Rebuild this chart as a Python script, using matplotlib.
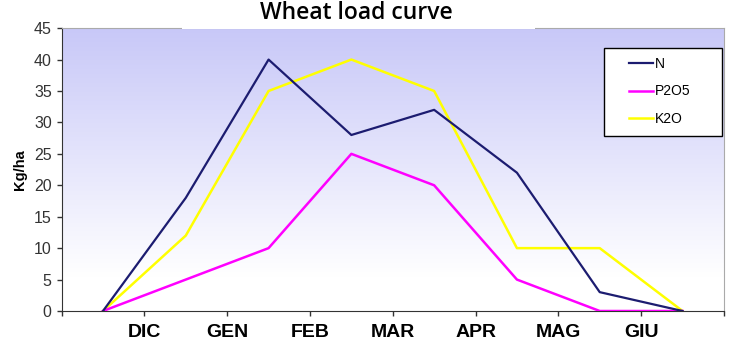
import numpy as np
import matplotlib
matplotlib.use("Agg")
import matplotlib.pyplot as plt
from matplotlib.patches import Rectangle

months = ["DIC", "GEN", "FEB", "MAR", "APR", "MAG", "GIU"]
n_vals = [0, 18, 40, 28, 32, 22, 3, 0]
p2o5_vals = [0, 5, 10, 25, 20, 5, 0, 0]
k2o_vals = [0, 12, 35, 40, 35, 10, 10, 0]

fig = plt.figure(figsize=(7.29, 3.56), dpi=100)
ax = fig.add_axes([0.0845, 0.1264, 0.9085, 0.7946])

# background gradient (lavender at top, white at bottom)
grad = np.linspace(0, 1, 256).reshape(-1, 1)
top = np.array([200, 200, 248]) / 255.0
bot = np.array([1.0, 1.0, 1.0])
t = np.clip((grad - 0.12) / 0.88, 0, 1)
img = bot + (top - bot) * t
img = img.reshape(256, 1, 3)
ax.imshow(img, extent=[0, 8, 0, 45], origin="lower", aspect="auto", zorder=0)

x = np.arange(len(n_vals)) + 0.5
ax.plot(x, k2o_vals, color="#ffff00", lw=1.8, label="K2O", zorder=3)
ax.plot(x, p2o5_vals, color="#ff00ff", lw=1.8, label="P2O5", zorder=3)
ax.plot(x, n_vals, color="#1c1c70", lw=1.6, label="N", zorder=4)

ax.set_xlim(0, 8)
ax.set_ylim(0, 45)
ax.set_yticks(range(0, 46, 5))
ax.set_xticks(range(0, 9))
ax.set_xticklabels([""] + months + [""], fontweight="bold", fontsize=14,
                   family=["Liberation Sans Narrow", "Liberation Sans"])
ax.tick_params(axis="x", length=3.6, pad=6, width=1, color="#333333")
ax.tick_params(axis="y", length=3.6, labelsize=11.5, labelcolor="#333333",
               width=1, color="#333333")
for lbl in ax.get_yticklabels():
    lbl.set_family("Liberation Sans")

ax.spines["left"].set_color("#333333")
ax.spines["bottom"].set_color("#333333")
ax.spines["top"].set_color("#aaaaaa")
ax.spines["right"].set_color("#aaaaaa")

ax.set_ylabel("Kg/ha", fontweight="bold", fontsize=10.5, family="Liberation Sans",
              labelpad=5)

# legend box, wider than its content
ax.add_patch(Rectangle((0.819, 0.618), 0.178, 0.311, transform=ax.transAxes,
                       facecolor="white", edgecolor="black", lw=1.0, zorder=5))
handles, labels = ax.get_legend_handles_labels()
order = [2, 1, 0]
leg = ax.legend([handles[i] for i in order], [labels[i] for i in order],
                loc="upper left", bbox_to_anchor=(0.857, 0.897),
                frameon=False, prop={"family": "Liberation Sans", "size": 10},
                handlelength=1.7, handletextpad=0.15, labelspacing=0.95,
                borderpad=0, borderaxespad=0)
leg.set_zorder(6)

# white box behind the title that hides the top border
fig.patches.append(Rectangle((182 / 729, 1 - 29 / 356), 353 / 729, 29 / 356,
                             transform=fig.transFigure, facecolor="white",
                             edgecolor="none", zorder=10))
fig.text(356 / 729, 1 - 13 / 356, "Wheat load curve", ha="center", va="center",
         fontsize=16.5, family="Open Sans", fontweight="semibold", zorder=11)

fig.savefig("out.png", dpi=100)
